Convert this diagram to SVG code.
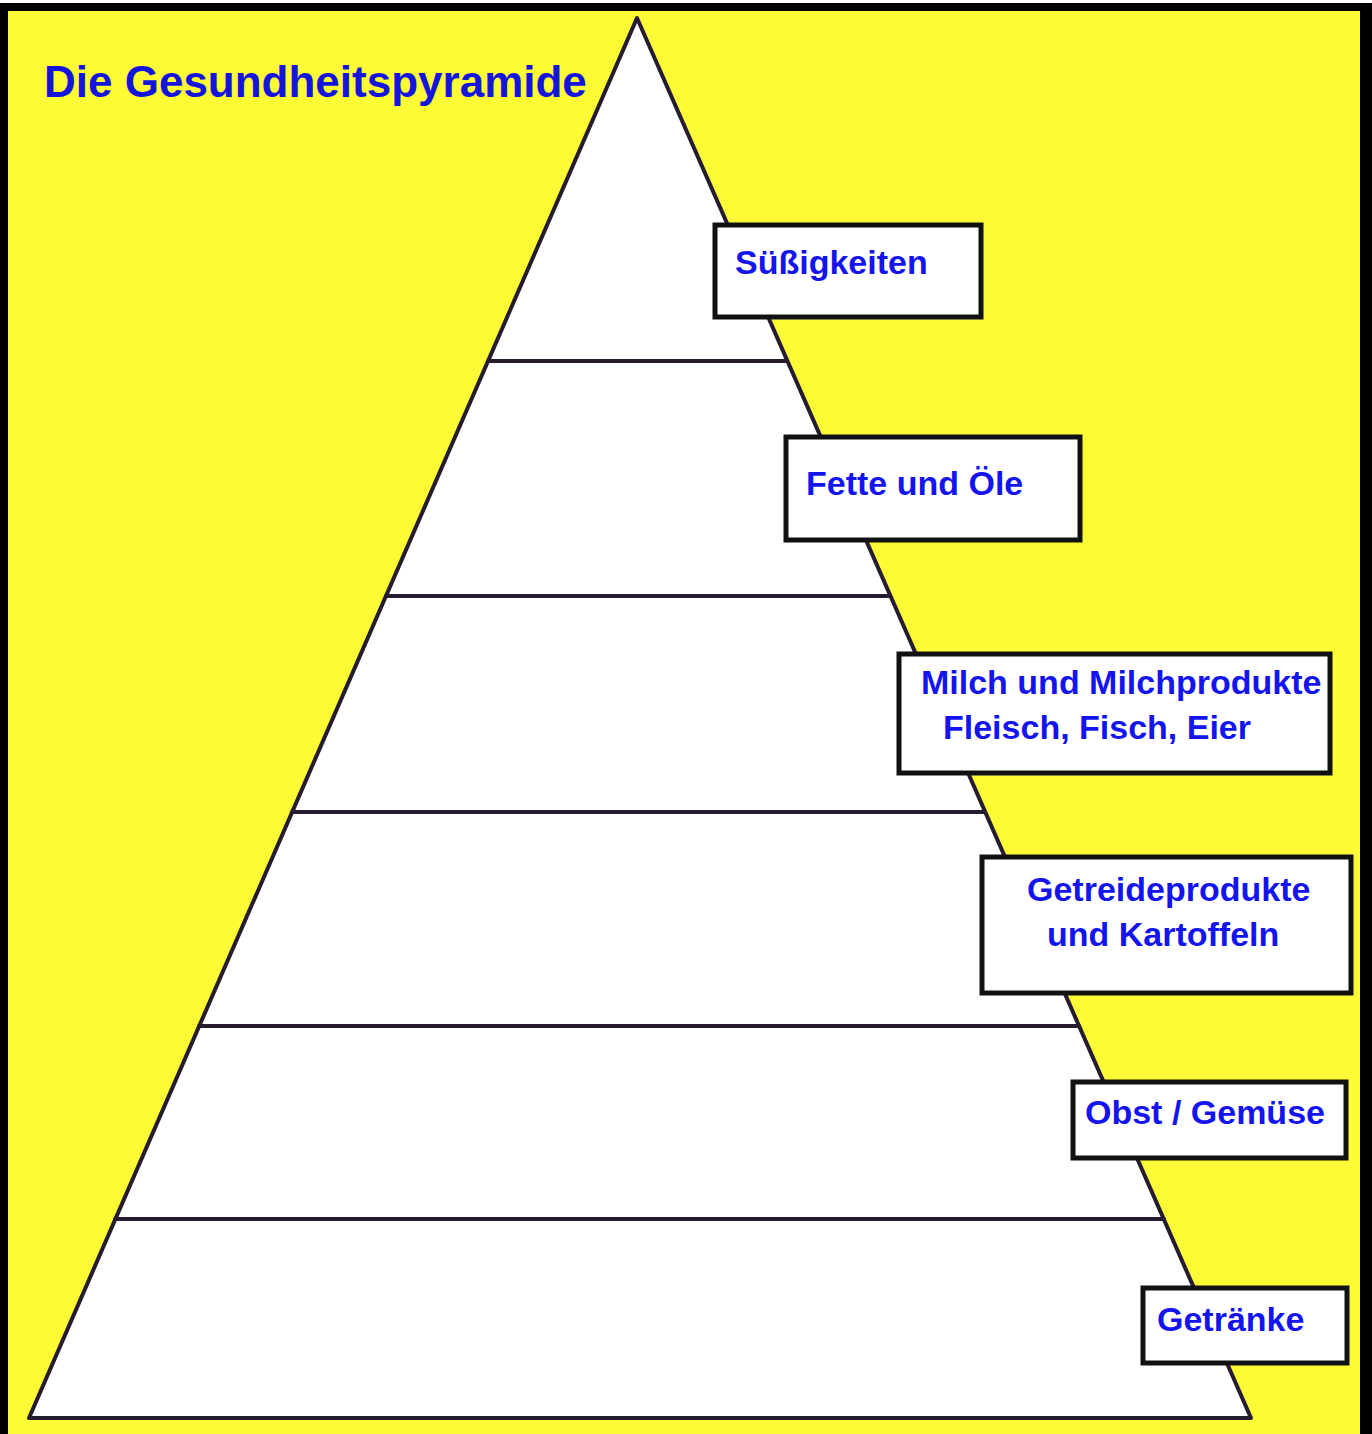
<svg xmlns="http://www.w3.org/2000/svg" width="1372" height="1434" viewBox="0 0 1372 1434">
  <style>
    .lbl { font-family: "Liberation Sans", Arial, sans-serif; font-weight: bold; font-size: 34px; fill: #1414EE; }
    .title { font-family: "Liberation Sans", Arial, sans-serif; font-weight: bold; font-size: 44px; fill: #1414DD; }
    .box { fill: #FFFFFF; stroke: #111111; stroke-width: 5; }
    .tier { stroke: #261c30; stroke-width: 4; fill: none; stroke-linecap: round; }
  </style>
  <rect x="0" y="0" width="1372" height="1434" fill="#FFFFFF"/>
  <rect x="0" y="3" width="1372" height="1431" fill="#000000"/>
  <rect x="8" y="11" width="1352" height="1423" fill="#FDFB35"/>

  <text class="title" x="44" y="97">Die Gesundheitspyramide</text>

  <g id="pyramid">
    <polygon points="637,18 29,1418 1251,1418" fill="#FFFFFF" stroke="#261c30" stroke-width="4" stroke-linejoin="round"/>
  </g>

  <g id="tiers">
    <line class="tier" x1="488" y1="361" x2="787" y2="361"/>
    <line class="tier" x1="386" y1="596" x2="890" y2="596"/>
    <line class="tier" x1="292" y1="812" x2="985" y2="812"/>
    <line class="tier" x1="199" y1="1026" x2="1079" y2="1026"/>
    <line class="tier" x1="115" y1="1219" x2="1164" y2="1219"/>
  </g>

  <g id="node-suessigkeiten">
    <rect class="box" x="715" y="225" width="266" height="92"/>
    <text class="lbl" x="735" y="274">Süßigkeiten</text>
  </g>
  <g id="node-fette">
    <rect class="box" x="786" y="437" width="294" height="103"/>
    <text class="lbl" x="806" y="495">Fette und Öle</text>
  </g>
  <g id="node-milch">
    <rect class="box" x="899" y="654" width="431" height="119"/>
    <text class="lbl" x="921" y="694">Milch und Milchprodukte</text>
    <text class="lbl" x="943" y="739">Fleisch, Fisch, Eier</text>
  </g>
  <g id="node-getreide">
    <rect class="box" x="982" y="857" width="369" height="136"/>
    <text class="lbl" x="1027" y="901">Getreideprodukte</text>
    <text class="lbl" x="1047" y="946">und Kartoffeln</text>
  </g>
  <g id="node-obst">
    <rect class="box" x="1073" y="1082" width="273" height="76"/>
    <text class="lbl" x="1085" y="1124">Obst / Gemüse</text>
  </g>
  <g id="node-getraenke">
    <rect class="box" x="1143" y="1288" width="204" height="75"/>
    <text class="lbl" x="1157" y="1331">Getränke</text>
  </g>
</svg>
